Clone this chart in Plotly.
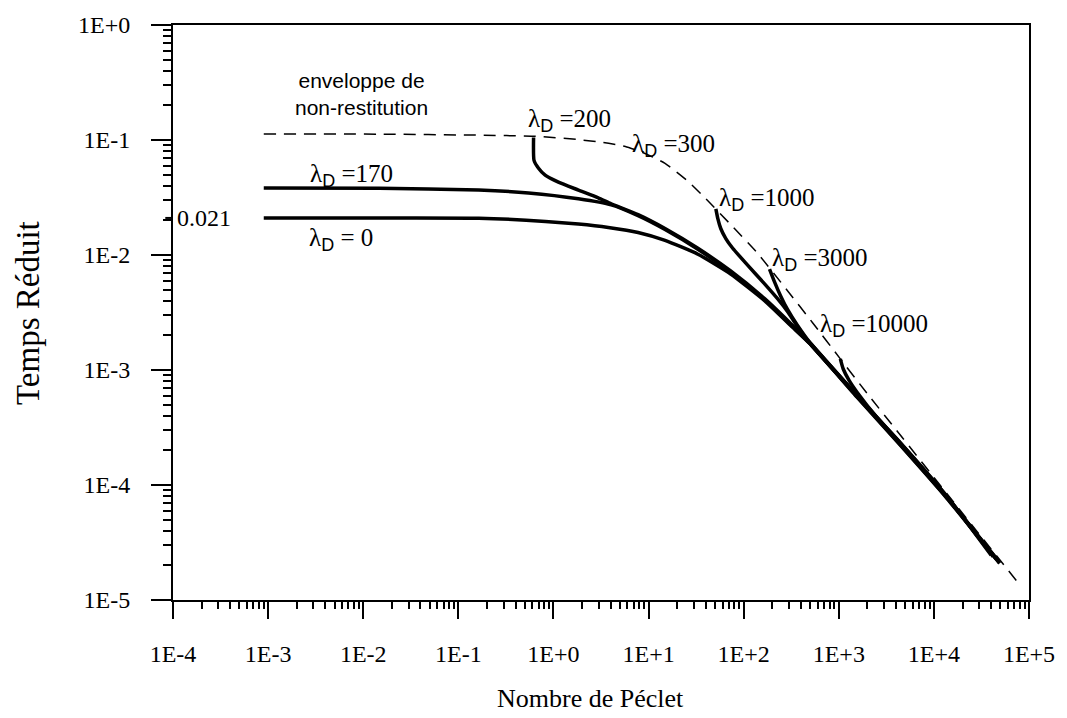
import plotly.graph_objects as go
import numpy as np

# Péclet number (x) and reduced time (y) for each curve
pe_l0 = [0.0009, 0.0147, 0.164, 0.824, 1.83, 3.77, 7.76, 14.9, 33, 73, 166, 310, 503, 1563, 4406, 13680, 49100]
t_l0 = [0.021, 0.021, 0.0209, 0.0196, 0.01857, 0.01733, 0.0157, 0.0134, 0.01016, 0.00684, 0.00401, 0.00245,
        0.00168, 0.000577, 0.000223, 0.0000767, 0.0000208]

pe_l170 = [0.0009, 0.0147, 0.164, 0.547, 1.83, 4.05, 7.76, 14.9, 33, 73, 166, 310, 503, 1563, 4406, 13680, 49100]
t_l170 = [0.0382, 0.038, 0.0367, 0.0346, 0.0308, 0.0273, 0.02198, 0.01666, 0.01122, 0.00711, 0.00409, 0.00249,
          0.00168, 0.000585, 0.000226, 0.0000775, 0.000021]

pe_l200 = [0.618, 0.625, 0.697, 0.818, 1.127, 1.83, 2.96, 4.05, 7.76, 14.9, 33, 73, 166, 310, 503, 1563, 4406,
           13680, 47000]
t_l200 = [0.105, 0.0665, 0.0568, 0.0494, 0.043, 0.0367, 0.0314, 0.0279, 0.02243, 0.01699, 0.01144, 0.00726,
          0.00417, 0.00255, 0.00171, 0.000592, 0.000229, 0.0000785, 0.0000222]

pe_l1000 = [51, 53.5, 57.4, 64.9, 76.7, 110, 166, 227, 289, 367, 503, 1563, 4406, 13680, 45000]
t_l1000 = [0.0252, 0.0207, 0.017, 0.0139, 0.01144, 0.00817, 0.00561, 0.00417, 0.00323, 0.0024, 0.00168,
           0.000595, 0.000231, 0.000079, 0.0000228]

pe_l3000 = [187, 211, 244, 289, 367, 503, 1563, 4406, 13680, 42000]
t_l3000 = [0.00755, 0.00584, 0.00443, 0.00336, 0.00245, 0.00171, 0.0006, 0.000233, 0.0000795, 0.0000238]

pe_l10000 = [1038, 1114, 1288, 1563, 2500, 4406, 13680, 40000]
t_l10000 = [0.00125, 0.00102, 0.000807, 0.000637, 0.00039, 0.000235, 0.00008, 0.0000245]

# non-restitution envelope (dashed)
pe_env = [0.0009, 0.0147, 0.164, 0.65, 1.83, 3.34, 5.7, 9.18, 14.9, 25.9, 42, 73, 140, 289, 528, 1038, 1986,
          4100, 17400, 77600]
t_env = [0.1128, 0.1124, 0.1102, 0.1076, 0.1008, 0.095, 0.0878, 0.0764, 0.0627, 0.0439, 0.0296, 0.0184,
         0.01036, 0.00489, 0.00259, 0.00125, 0.000625, 0.000295, 0.0000655, 0.000014]

x_tick_vals = [1e-4, 1e-3, 1e-2, 1e-1, 1e0, 1e1, 1e2, 1e3, 1e4, 1e5]
x_tick_text = ["1E-4", "1E-3", "1E-2", "1E-1", "1E+0", "1E+1", "1E+2", "1E+3", "1E+4", "1E+5"]
y_tick_vals = [1e-5, 1e-4, 1e-3, 1e-2, 1e-1, 1e0]
y_tick_text = ["1E-5", "1E-4", "1E-3", "1E-2", "1E-1", "1E+0"]

SERIF = "Liberation Serif"
SANS = "Liberation Sans"

fig = go.Figure()

solid = dict(color="black", width=3.5, shape="spline", smoothing=0.5)
for xs, ys in [(pe_l0, t_l0), (pe_l170, t_l170), (pe_l200, t_l200),
               (pe_l1000, t_l1000), (pe_l3000, t_l3000), (pe_l10000, t_l10000)]:
    fig.add_trace(go.Scatter(x=xs, y=ys, mode="lines", line=solid,
                             showlegend=False, hoverinfo="skip"))

fig.add_trace(go.Scatter(x=pe_env, y=t_env, mode="lines",
                         line=dict(color="black", width=1.5, dash="12px,8px", shape="spline", smoothing=0.5),
                         showlegend=False, hoverinfo="skip"))


def minor_vals(lo, hi):
    return [m * 10.0 ** k for k in range(lo, hi) for m in range(2, 10)]


fig.update_xaxes(
    type="log", range=[-4, 5],
    tickmode="array", tickvals=x_tick_vals, ticktext=x_tick_text,
    ticks="outside", ticklen=17, tickwidth=2, tickcolor="black",
    minor=dict(tickmode="array", tickvals=minor_vals(-4, 5), ticks="outside",
               ticklen=7, tickwidth=1.5, tickcolor="black", showgrid=False),
    showline=True, linecolor="black", linewidth=2, mirror=True,
    showgrid=False, zeroline=False, ticklabelstandoff=14,
    tickfont=dict(family=SERIF, size=24, color="black"),
)
fig.update_yaxes(
    type="log", range=[-5, 0],
    tickmode="array", tickvals=y_tick_vals, ticktext=y_tick_text,
    ticks="outside", ticklen=20, tickwidth=2, tickcolor="black",
    minor=dict(tickmode="array", tickvals=minor_vals(-5, 0), ticks="outside",
               ticklen=8, tickwidth=1.5, tickcolor="black", showgrid=False),
    showline=True, linecolor="black", linewidth=2, mirror=True,
    showgrid=False, zeroline=False, ticklabelstandoff=16,
    tickfont=dict(family=SERIF, size=24, color="black"),
)

# axis titles (paper coordinates are relative to the plotting area)
fig.add_annotation(x=0.488, y=-0.172, xref="paper", yref="paper",
                   text="Nombre de Péclet", showarrow=False, xanchor="center", yanchor="middle",
                   font=dict(family=SERIF, size=26, color="black"))
fig.add_annotation(x=-0.170, y=0.5, xref="paper", yref="paper", textangle=-90,
                   text="Temps Réduit", showarrow=False, xanchor="center", yanchor="middle",
                   font=dict(family=SERIF, size=33, color="black"))


def lam(value):
    return (f"λ<sub><span style=\"font-family:{SANS};font-size:18px\">D</span></sub> ={value}")


labels = [
    (lam("170"), -2.126, -1.306),
    (lam(" 0"), -2.23, -1.864),
    (lam("200"), 0.168, -0.833),
    (lam("300"), 1.267, -1.048),
    (lam("1000"), 2.241, -1.521),
    (lam("3000"), 2.796, -2.036),
    (lam("10000"), 3.372, -2.612),
]
for text, lx, ly in labels:
    fig.add_annotation(x=lx, y=ly, xref="x", yref="y", text=text, showarrow=False,
                       font=dict(family=SERIF, size=25, color="black"))

fig.add_annotation(x=-2.021, y=-0.601, xref="x", yref="y",
                   text="enveloppe de<br>non-restitution", showarrow=False, align="center",
                   font=dict(family=SANS, size=21, color="black"))

# extra marker on the y axis for the λD = 0 plateau
fig.add_annotation(x=0.002, y=np.log10(0.021), xref="paper", yref="y", text="0.021",
                   xanchor="left", showarrow=False, font=dict(family=SERIF, size=24, color="black"))
fig.add_shape(type="line", xref="paper", yref="y", x0=-0.009, x1=0,
              y0=0.021, y1=0.021, line=dict(color="black", width=2))

fig.update_layout(
    width=1067, height=718,
    margin=dict(l=173, r=35, t=18, b=118),
    plot_bgcolor="white", paper_bgcolor="white",
)

fig.write_html("out.html")
